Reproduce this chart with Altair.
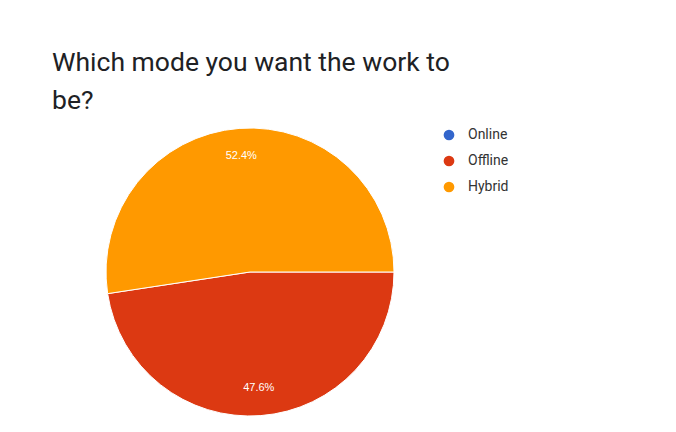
import math
import altair as alt
import pandas as pd

categories = ["Online", "Offline", "Hybrid"]
percents = [0.0, 47.6, 52.4]
labels = ["0%", "47.6%", "52.4%"]
colors = ["#3366cc", "#dc3912", "#ff9900"]

df = pd.DataFrame({
    "mode": categories,
    "pct": percents,
    "label": labels,
    "idx": list(range(len(categories))),
})

theta_scale = alt.Scale(range=[math.pi / 2, math.pi / 2 + 2 * math.pi])
color_scale = alt.Scale(domain=categories, range=colors)

base = alt.Chart(df)

arcs = base.mark_arc(stroke="white", strokeWidth=1).encode(
    theta=alt.Theta("pct:Q", stack=True, scale=theta_scale),
    color=alt.Color(
        "mode:N",
        scale=color_scale,
        sort=categories,
        legend=alt.Legend(
            title=None,
            orient="none",
            legendX=336,
            legendY=0,
            symbolType="circle",
            symbolSize=115,
            symbolStrokeWidth=0,
            labelFontSize=14,
            labelFont="Roboto",
            labelColor="#333333",
            rowPadding=12,
            labelOffset=12,
        ),
    ),
    order=alt.Order("idx:Q"),
)

texts = base.transform_filter("datum.pct > 0").mark_text(
    radius=116, fontSize=11, font="Liberation Sans", color="white"
).encode(
    theta=alt.Theta("pct:Q", stack=True, scale=theta_scale),
    text="label:N",
    order=alt.Order("idx:Q"),
)

chart = alt.layer(arcs, texts).properties(
    width=288,
    height=288,
    autosize=alt.AutoSizeParams(type="none"),
    padding={"left": 106, "top": 128, "right": 282, "bottom": 16},
    background="white",
    title=alt.TitleParams(
        text=["Which mode you want the work to", "be?"],
        anchor="start",
        frame="group",
        dx=-54,
        offset=12,
        fontSize=26.5,
        font="Roboto",
        fontWeight="normal",
        color="#202124",
        lineHeight=38,
    ),
).configure_view(stroke=None)

chart.save("out.html", embed_options={"renderer": "svg", "actions": False})
